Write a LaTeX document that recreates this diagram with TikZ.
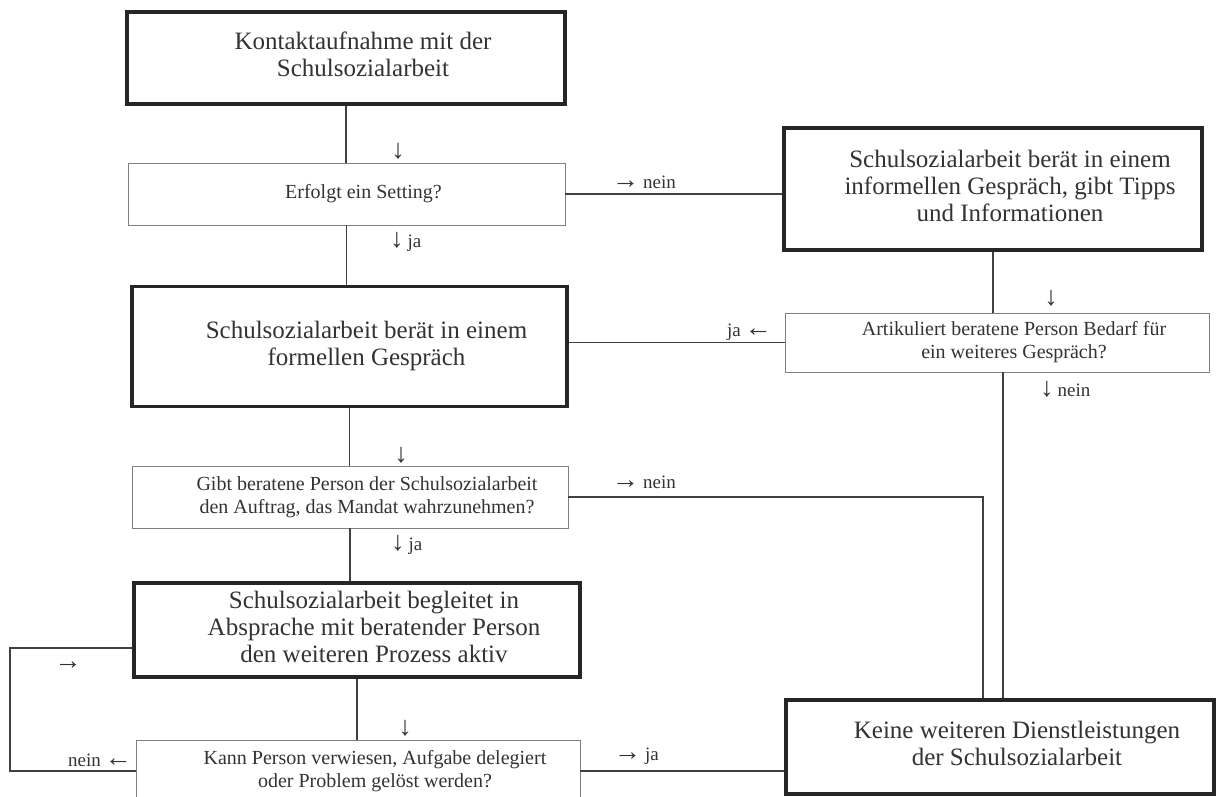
\documentclass[tikz,border=0pt]{standalone}
\usepackage{fontspec}
\setmainfont{Liberation Serif}
\newcommand{\bigarr}[1]{{\fontsize{27}{22}\selectfont #1}}
\newcommand{\shtxt}[1]{\hspace*{34pt}\begin{tabular}{@{}c@{}}#1\end{tabular}}
\begin{document}
\begin{tikzpicture}[x=1pt,y=-1pt,
  thickbox/.style={draw=black!85, line width=3.5pt, rectangle, inner sep=0pt,
    text=black!80, font=\fontsize{25}{27}\selectfont},
  decbox/.style={draw=black!50, line width=0.9pt, rectangle, inner sep=0pt,
    text=black!80, font=\fontsize{20}{23}\selectfont},
  conn/.style={draw=black!75, line width=1.1pt},
  lbl/.style={text=black!80, inner sep=0pt, font=\fontsize{19}{22}\selectfont}]
\useasboundingbox (0,0) rectangle (1223,796);
\fill[white] (0,0) rectangle (1223,796);

% nodes
\node[thickbox, minimum width=438, minimum height=92] (k1) at (346,58)
  {\shtxt{Kontaktaufnahme mit der\\Schulsozialarbeit}};
\node[decbox, minimum width=437, minimum height=62] (d1) at (346.5,194)
  {\shtxt{Erfolgt ein Setting?}};
\node[thickbox, minimum width=418, minimum height=122] (r1) at (993,189)
  {\shtxt{Schulsozialarbeit berät in einem\\informellen Gespräch, gibt Tipps\\und Informationen}};
\node[decbox, minimum width=424, minimum height=59] (d2) at (997,342.5)
  {\shtxt{Artikuliert beratene Person Bedarf für\\ein weiteres Gespräch?}};
\node[thickbox, minimum width=435, minimum height=120] (b2) at (349.5,346.5)
  {\shtxt{Schulsozialarbeit berät in einem\\formellen Gespräch}};
\node[decbox, minimum width=436, minimum height=62] (d3) at (350,497)
  {\shtxt{Gibt beratene Person der Schulsozialarbeit\\den Auftrag, das Mandat wahrzunehmen?}};
\node[thickbox, minimum width=446, minimum height=94] (b3) at (357,630)
  {\shtxt{Schulsozialarbeit begleitet in\\Absprache mit beratender Person\\den weiteren Prozess aktiv}};
\node[decbox, minimum width=444, minimum height=62] (d4) at (358,771)
  {\shtxt{Kann Person verwiesen, Aufgabe delegiert\\oder Problem gelöst werden?}};
\node[thickbox, minimum width=428, minimum height=94] (b4) at (1000,747)
  {\shtxt{Keine weiteren Dienstleistungen\\der Schulsozialarbeit}};

\coordinate (lp) at (10,700);

% connectors
\draw[conn] (k1.south) -- (k1.south |- d1.north);
\draw[conn] (d1.south) -- (d1.south |- b2.north);
\draw[conn] (d1.east) -- (d1.east -| r1.west);
\draw[conn] (r1.south) -- (r1.south |- d2.north);
\draw[conn] (d2.west) -- (d2.west -| b2.east);
\draw[conn] (b2.south) -- (b2.south |- d3.north);
\draw[conn] (d3.east) -| ([xshift=-17pt]b4.north);
\draw[conn] ([xshift=6pt]d2.south) -- ([xshift=3pt]b4.north);
\draw[conn] (d3.south) -- (d3.south |- b3.north);
\draw[conn] (b3.south) -- (b3.south |- d4.north);
\draw[conn] (d4.east) -- (d4.east -| b4.west);
\draw[conn] (d4.west) -| (lp) |- ([yshift=-18pt]b3.west);

% labels
\node[lbl] (l1) at (398,151) {\bigarr{↓}};
\node[lbl, anchor=west] (l2) at (390,242) {\bigarr{↓}\hspace{4pt}ja};
\node[lbl, anchor=west] (l3) at (612,182) {\bigarr{→}\hspace{4pt}nein};
\node[lbl] (l4) at (1051,298) {\bigarr{↓}};
\node[lbl, anchor=east] (l5) at (772,332) {ja\hspace{4pt}\bigarr{←}};
\node[lbl, anchor=west] (l6) at (1040,389) {\bigarr{↓}\hspace{4pt}nein};
\node[lbl] (l7) at (401,455) {\bigarr{↓}};
\node[lbl, anchor=west] (l8) at (612,482) {\bigarr{→}\hspace{4pt}nein};
\node[lbl, anchor=west] (l9) at (391,545) {\bigarr{↓}\hspace{4pt}ja};
\node[lbl] (l10) at (405,728) {\bigarr{↓}};
\node[lbl] (l11) at (68,666) {\bigarr{→}};
\node[lbl, anchor=east] (l12) at (132,760) {nein\hspace{4pt}\bigarr{←}};
\node[lbl, anchor=west] (l13) at (614,756) {\bigarr{→}\hspace{4pt}ja};
\end{tikzpicture}
\end{document}
